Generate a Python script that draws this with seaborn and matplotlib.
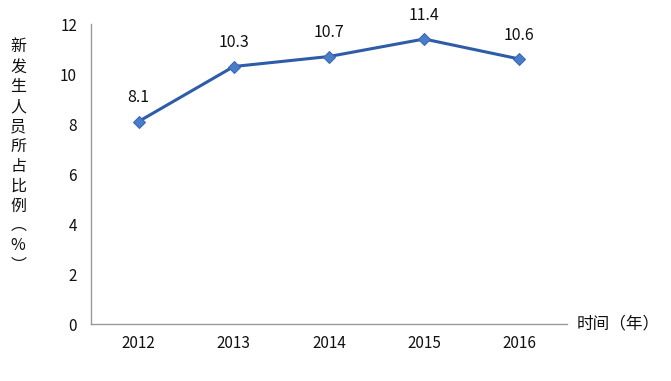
import matplotlib
matplotlib.use("Agg")
import matplotlib.pyplot as plt
import seaborn as sns
import pandas as pd

years = ["2012", "2013", "2014", "2015", "2016"]
ratio = [8.1, 10.3, 10.7, 11.4, 10.6]
y_ticks = [0, 2, 4, 6, 8, 10, 12]
y_label = ["新", "发", "生", "人", "员", "所", "占", "比", "例", "︵", "%", "︶"]
x_label = "时间（年）"

sns.set_theme(style="white")
plt.rcParams['font.family'] = ['Noto Sans CJK SC', 'DejaVu Sans']

df = pd.DataFrame({"year": years, "ratio": ratio})

fig = plt.figure(figsize=(6.71, 3.81), dpi=100)
ax = fig.add_axes([0.1356, 0.1496, 0.7094, 0.7874])

line_color = "#2e5ca8"
sns.lineplot(data=df, x="year", y="ratio", ax=ax, color=line_color, linewidth=2.2,
             marker="D", markersize=6, markerfacecolor="#4a7cc7",
             markeredgecolor="#3a68b5", sort=False)

for i, v in enumerate(ratio):
    ax.annotate(f"{v:.1f}", (i, v), xytext=(0, 11), textcoords="offset points",
                ha="center", va="bottom", fontsize=11.5, color="#111111")

ax.set_xlim(-0.5, 4.5)
ax.set_ylim(0, 12)
ax.set_yticks(y_ticks)
ax.set_xlabel("")
ax.set_ylabel("")
ax.tick_params(axis="both", labelsize=11, colors="#111111", length=0, pad=8)
ax.tick_params(axis="y", length=4, color="#999999", direction="out", pad=6)

for side in ["top", "right"]:
    ax.spines[side].set_visible(False)
for side in ["left", "bottom"]:
    ax.spines[side].set_color("#999999")
    ax.spines[side].set_linewidth(1)

# vertical stacked y label
fig.text(0.027, 0.59, "\n".join(y_label), ha="center", va="center",
         fontsize=11.5, linespacing=1.22, color="#111111")

ax.text(1.02, 0.0, x_label, transform=ax.transAxes, ha="left", va="center",
        fontsize=12, color="#111111")

fig.savefig("out.png", dpi=100)
